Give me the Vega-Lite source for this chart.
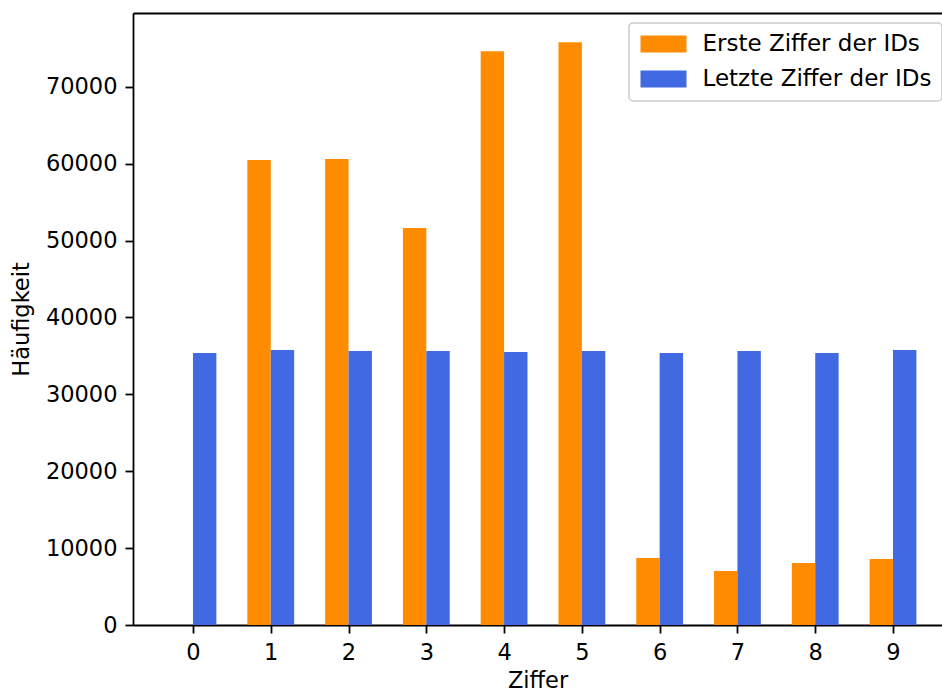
{
  "$schema": "https://vega.github.io/schema/vega-lite/v6.json",
  "autosize": {"type": "none"},
  "padding": {"left": 133, "top": 13, "right": 0, "bottom": 68},
  "width": 809,
  "height": 612,
  "background": "white",
  "data": {"values": [
    {"ziffer": 0, "reihe": "Erste Ziffer der IDs", "anzahl": 0},
    {"ziffer": 1, "reihe": "Erste Ziffer der IDs", "anzahl": 60470},
    {"ziffer": 2, "reihe": "Erste Ziffer der IDs", "anzahl": 60600},
    {"ziffer": 3, "reihe": "Erste Ziffer der IDs", "anzahl": 51620},
    {"ziffer": 4, "reihe": "Erste Ziffer der IDs", "anzahl": 74640},
    {"ziffer": 5, "reihe": "Erste Ziffer der IDs", "anzahl": 75810},
    {"ziffer": 6, "reihe": "Erste Ziffer der IDs", "anzahl": 8710},
    {"ziffer": 7, "reihe": "Erste Ziffer der IDs", "anzahl": 7020},
    {"ziffer": 8, "reihe": "Erste Ziffer der IDs", "anzahl": 8060},
    {"ziffer": 9, "reihe": "Erste Ziffer der IDs", "anzahl": 8580},
    {"ziffer": 0, "reihe": "Letzte Ziffer der IDs", "anzahl": 35370},
    {"ziffer": 1, "reihe": "Letzte Ziffer der IDs", "anzahl": 35760},
    {"ziffer": 2, "reihe": "Letzte Ziffer der IDs", "anzahl": 35630},
    {"ziffer": 3, "reihe": "Letzte Ziffer der IDs", "anzahl": 35630},
    {"ziffer": 4, "reihe": "Letzte Ziffer der IDs", "anzahl": 35500},
    {"ziffer": 5, "reihe": "Letzte Ziffer der IDs", "anzahl": 35630},
    {"ziffer": 6, "reihe": "Letzte Ziffer der IDs", "anzahl": 35370},
    {"ziffer": 7, "reihe": "Letzte Ziffer der IDs", "anzahl": 35630},
    {"ziffer": 8, "reihe": "Letzte Ziffer der IDs", "anzahl": 35370},
    {"ziffer": 9, "reihe": "Letzte Ziffer der IDs", "anzahl": 35760}
  ]},
  "encoding": {
    "y": {
      "field": "anzahl", "type": "quantitative",
      "scale": {"domain": [0, 79600], "nice": false, "zero": true},
      "axis": {"values": [0, 10000, 20000, 30000, 40000, 50000, 60000, 70000], "format": "d", "title": "Häufigkeit", "grid": false, "titlePadding": 12}
    },
    "color": {
      "field": "reihe", "type": "nominal",
      "scale": {"domain": ["Erste Ziffer der IDs", "Letzte Ziffer der IDs"], "range": ["#ff8c00", "#4169e1"]},
      "legend": {
        "title": null,
        "orient": "none",
        "legendX": 496,
        "legendY": 10,
        "padding": 9.5,
        "strokeColor": "#cccccc",
        "fillColor": "white",
        "cornerRadius": 4,
        "symbolType": "M-2.3,-0.85H2.3V0.85H-2.3Z",
        "symbolSize": 400,
        "symbolStrokeWidth": 0,
        "symbolOpacity": 1,
        "symbolOffset": 13.5,
        "labelOffset": 27.5,
        "rowPadding": 11,
        "labelFont": "DejaVu Sans",
        "labelFontSize": 23,
        "labelColor": "black",
        "labelLimit": 400,
        "encode": {"legend": {"update": {"strokeWidth": {"value": 1.5}}}}
      }
    }
  },
  "layer": [
    {
      "transform": [{"filter": "datum.reihe === 'Erste Ziffer der IDs'"}],
      "mark": {"type": "bar", "width": 23.4, "xOffset": -11.7},
      "encoding": {
        "x": {
          "field": "ziffer", "type": "quantitative",
          "scale": {"domain": [-0.771, 9.63], "nice": false, "zero": false, "padding": 0},
          "axis": {"values": [0, 1, 2, 3, 4, 5, 6, 7, 8, 9], "format": "d", "title": "Ziffer", "grid": false, "titlePadding": 6}
        }
      }
    },
    {
      "transform": [{"filter": "datum.reihe === 'Letzte Ziffer der IDs'"}],
      "mark": {"type": "bar", "width": 23.4, "xOffset": 11.7},
      "encoding": {
        "x": {
          "field": "ziffer", "type": "quantitative",
          "scale": {"domain": [-0.771, 9.63], "nice": false, "zero": false, "padding": 0},
          "axis": {"orient": "top", "labels": false, "ticks": false, "title": null, "grid": false, "domain": true}
        }
      }
    }
  ],
  "resolve": {"axis": {"x": "independent"}},
  "config": {
    "view": {"stroke": null},
    "axis": {
      "domainColor": "black",
      "domainWidth": 1.8,
      "tickColor": "black",
      "tickWidth": 1.8,
      "tickSize": 8,
      "labelPadding": 8,
      "labelFont": "DejaVu Sans",
      "labelFontSize": 22.5,
      "labelColor": "black",
      "titleFont": "DejaVu Sans",
      "titleFontSize": 22.5,
      "titleFontWeight": "normal",
      "titleColor": "black",
      "labelFlush": false,
      "labelOverlap": false
    }
  }
}
